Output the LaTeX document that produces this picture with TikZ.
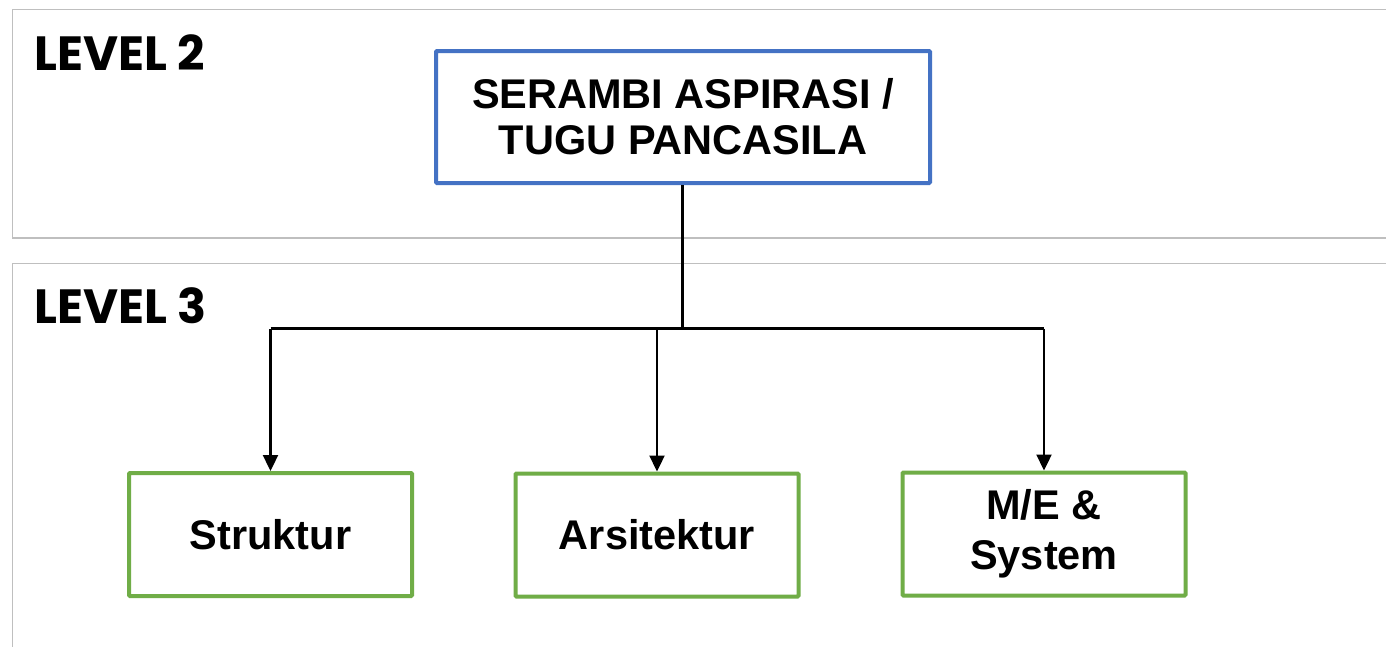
\documentclass[tikz,border=0pt]{standalone}
\usepackage{fontspec}
\setmainfont{Liberation Sans}
\newfontfamily\levelfont{Poppins}
\usetikzlibrary{arrows.meta}
\definecolor{panelgray}{RGB}{191,191,191}
\definecolor{topblue}{RGB}{68,114,196}
\definecolor{subgreen}{RGB}{112,173,71}
\tikzset{
  panel/.style={draw=panelgray, line width=1.3pt},
  levellabel/.style={anchor=base west, inner sep=0pt, font=\levelfont\bfseries\fontsize{48}{48}\selectfont},
  titlebox/.style={draw=topblue, line width=4pt, rounded corners=1pt, minimum width=494pt, minimum height=132pt, align=center, inner sep=0pt, font=\bfseries\fontsize{41.5}{46}\selectfont},
  subbox/.style={draw=subgreen, line width=4pt, rounded corners=1pt, minimum width=283pt, minimum height=123pt, align=center, inner sep=0pt, font=\bfseries\fontsize{41.5}{50}\selectfont},
  conn/.style={draw=black, line width=2.3pt},
  arr/.style={conn, -{Triangle[width=15pt,length=16pt]}}
}
\begin{document}
\begin{tikzpicture}[x=1pt,y=-1pt]
\useasboundingbox (0,0) rectangle (1386,646);
\fill[white] (0,0) rectangle (1386,646);
% panels
\draw[panel] (1390,9.5) -- (12.5,9.5) -- (12.5,238) -- (1390,238);
\draw[panel] (1390,263.5) -- (12.5,263.5) -- (12.5,650);
\node[levellabel] (lv2) at (34,70) {LEVEL 2};
\node[levellabel] (lv3) at (34,323) {LEVEL 3};
% boxes
\node[titlebox] (top) at (683,117) {SERAMBI ASPIRASI /\\TUGU PANCASILA};
\node[subbox] (s1) at (270.5,534.5) {Struktur};
\node[subbox] (s2) at (657,535) {Arsitektur};
\node[subbox] (s3) at (1044,534) {M/E \&\\System};
% connectors
\coordinate (j) at (682.5,328.5);
\coordinate (jl) at (270.5,328.5);
\coordinate (jm) at (657,328.5);
\coordinate (jr) at (1044,328.5);
\draw[conn] (top.south -| j) -- (j);
\draw[conn] (jl) -- (jr);
\draw[arr] (jl) -- (s1.north);
\draw[arr] (jm) -- (s2.north);
\draw[arr] (jr) -- (s3.north);
\end{tikzpicture}
\end{document}
